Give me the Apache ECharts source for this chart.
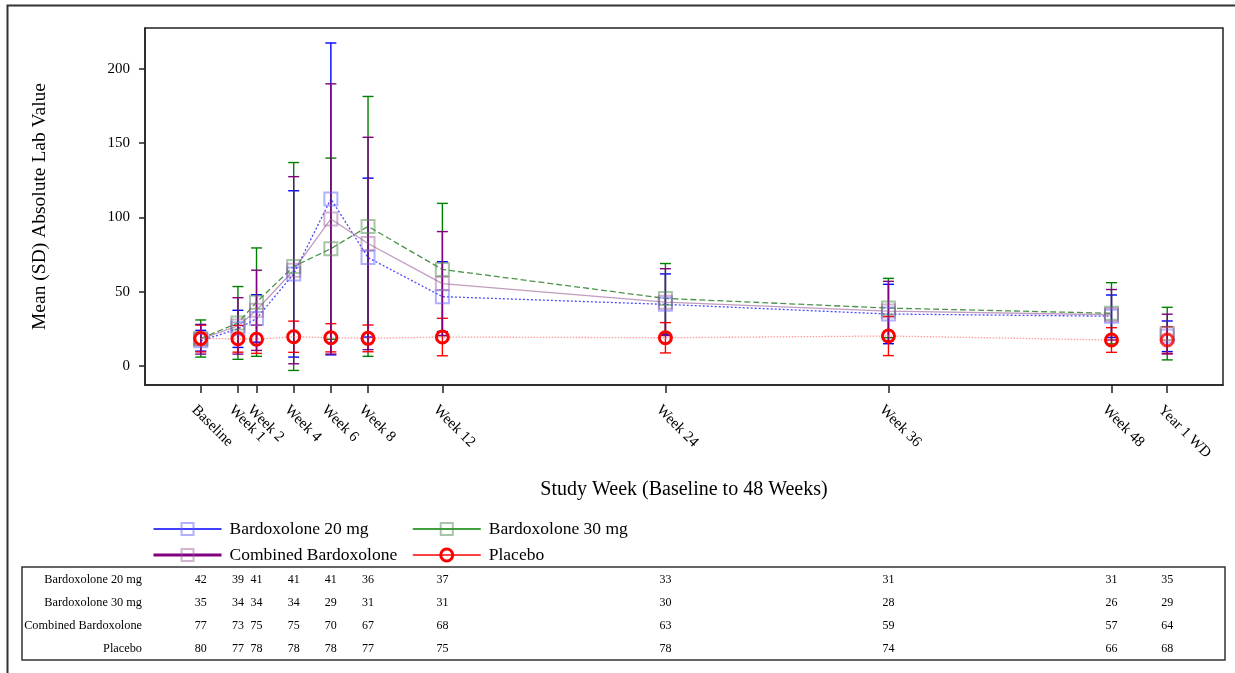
<!DOCTYPE html>
<html>
<head>
<meta charset="utf-8">
<script src="https://cdn.jsdelivr.net/npm/echarts@6/dist/echarts.min.js"></script>
<style>
  html, body { margin: 0; padding: 0; background: #fff; }
  #chart { width: 1235px; height: 673px; }
</style>
</head>
<body>
<div id="chart"></div>
<script>
// Visits and where each one sits on the study-week scale
const visitLabels = ['Baseline', 'Week 1', 'Week 2', 'Week 4', 'Week 6', 'Week 8', 'Week 12', 'Week 24', 'Week 36', 'Week 48', 'Year 1 WD'];
const visitWeeks = [-1, 1, 2, 4, 6, 8, 12, 24, 36, 48, 51];
const joinedVisits = 10; // visits up to Week 48 are joined; Year 1 WD stands alone
const yTicks = [0, 50, 100, 150, 200];

// Mean and SD of the absolute lab value per visit
const b20Mean = [17, 25, 32, 62, 112.5, 73, 46.7, 41.5, 35, 33.5, 20];
const b20Sd = [7, 12.5, 16, 56, 105, 53.5, 23.5, 20.5, 20, 14.3, 10.3];
const b30Mean = [18.5, 29, 43, 67, 79, 94, 65, 45.5, 39, 35.5, 21.8];
const b30Sd = [12.5, 24.5, 36.5, 70, 61, 87.5, 44.5, 23.5, 20, 20.6, 17.7];
const combMean = [18, 27, 37.5, 64.5, 99, 82.5, 55.5, 43, 37, 34.5, 21.5];
const combSd = [10, 19, 27, 63, 91, 71.5, 35, 22.5, 20, 17, 13.4];
const placeboMean = [18.5, 18.3, 18, 19.7, 19, 18.6, 19.5, 19, 20.2, 17.5, 17.5];
const placeboSd = [9, 9, 9.5, 10.5, 9.5, 9, 12.6, 10.2, 13.2, 8.3, 9];

// Number of subjects per visit
const b20N = [42, 39, 41, 41, 41, 36, 37, 33, 31, 31, 35];
const b30N = [35, 34, 34, 34, 29, 31, 31, 30, 28, 26, 29];
const combN = [77, 73, 75, 75, 70, 67, 68, 63, 59, 57, 64];
const placeboN = [80, 77, 78, 78, 78, 77, 75, 78, 74, 66, 68];

const FONT = '"Liberation Serif", "Times New Roman", serif';

const groups = [
  { name: 'Bardoxolone 20 mg', mean: b20Mean, sd: b20Sd, n: b20N, color: '#0000ff',
    line: { color: 'rgba(30,30,255,0.8)', width: 1.3, type: [2, 2] },
    symbol: 'rect', symbolSize: 13,
    item: { color: 'rgba(0,0,0,0)', borderColor: 'rgba(100,100,255,0.5)', borderWidth: 2 },
    legendWidth: 1.5, barOrder: 0 },
  { name: 'Bardoxolone 30 mg', mean: b30Mean, sd: b30Sd, n: b30N, color: '#008000',
    line: { color: 'rgba(30,120,30,0.8)', width: 1.3, type: [6, 3] },
    symbol: 'rect', symbolSize: 13,
    item: { color: 'rgba(0,0,0,0)', borderColor: 'rgba(80,140,80,0.5)', borderWidth: 2 },
    legendWidth: 1.5, barOrder: 1 },
  { name: 'Combined Bardoxolone', mean: combMean, sd: combSd, n: combN, color: '#800080',
    line: { color: 'rgba(150,90,150,0.6)', width: 1.3, type: 'solid' },
    symbol: 'rect', symbolSize: 13,
    item: { color: 'rgba(0,0,0,0)', borderColor: 'rgba(150,90,150,0.45)', borderWidth: 2 },
    legendWidth: 3, barOrder: 3 },
  { name: 'Placebo', mean: placeboMean, sd: placeboSd, n: placeboN, color: '#ff0000',
    line: { color: 'rgba(255,90,90,0.6)', width: 1.3, type: [1.5, 1.5] },
    symbol: 'circle', symbolSize: 12,
    item: { color: 'rgba(0,0,0,0)', borderColor: '#ff0000', borderWidth: 3 },
    legendWidth: 1.5, barOrder: 2 }
];

const series = [];

// Error bars: mean +/- SD with end caps
groups.slice().sort((a, b) => a.barOrder - b.barOrder).forEach(g => {
  series.push({
    type: 'custom',
    name: g.name + ' SD',
    xAxisIndex: 0, yAxisIndex: 0,
    z: 2,
    silent: true,
    data: visitWeeks.map((w, i) => [w, g.mean[i], g.sd[i]]),
    encode: { x: 0, y: 1 },
    renderItem: (params, api) => {
      const x = api.value(0), m = api.value(1), s = api.value(2);
      const top = api.coord([x, m + s]);
      const bot = api.coord([x, m - s]);
      const hw = 5.5;
      const st = { stroke: g.color, lineWidth: 1.4 };
      return {
        type: 'group',
        children: [
          { type: 'line', shape: { x1: top[0], y1: top[1], x2: bot[0], y2: bot[1] }, style: st },
          { type: 'line', shape: { x1: top[0] - hw, y1: top[1], x2: top[0] + hw, y2: top[1] }, style: st },
          { type: 'line', shape: { x1: bot[0] - hw, y1: bot[1], x2: bot[0] + hw, y2: bot[1] }, style: st }
        ]
      };
    }
  });
});

// Mean profiles (joined visits) and the stand-alone Year 1 WD marker
groups.forEach(g => {
  const pts = visitWeeks.map((w, i) => [w, g.mean[i]]);
  series.push({
    type: 'line',
    name: g.name,
    xAxisIndex: 0, yAxisIndex: 0,
    z: g.symbol === 'circle' ? 6 : 4,
    data: pts.slice(0, joinedVisits),
    symbol: g.symbol,
    symbolSize: g.symbolSize,
    showSymbol: true,
    lineStyle: g.line,
    itemStyle: g.item,
    emphasis: { disabled: true },
    animation: false
  });
  series.push({
    type: 'scatter',
    name: g.name + ' WD',
    xAxisIndex: 0, yAxisIndex: 0,
    z: g.symbol === 'circle' ? 6 : 4,
    data: pts.slice(joinedVisits),
    symbol: g.symbol,
    symbolSize: g.symbolSize,
    itemStyle: g.item,
    emphasis: { disabled: true },
    animation: false
  });
});

// Subject counts table beneath the legend
groups.forEach((g, row) => {
  series.push({
    type: 'custom',
    name: g.name + ' N',
    xAxisIndex: 1, yAxisIndex: 1,
    silent: true,
    data: visitWeeks.map((w, i) => [w, row, g.n[i]]),
    encode: { x: 0, y: 1 },
    renderItem: (params, api) => {
      const p = api.coord([api.value(0), api.value(1)]);
      return {
        type: 'text',
        x: p[0], y: p[1],
        style: {
          text: String(api.value(2)),
          align: 'center', verticalAlign: 'middle',
          font: '12px ' + FONT, fill: '#000'
        }
      };
    }
  });
});

const legendItem = g => ({
  name: g.name,
  lineStyle: { type: 'solid', width: g.legendWidth, color: g.color, opacity: 1 },
  itemStyle: g.item
});

const legendBase = {
  top: 515, orient: 'vertical', itemGap: 8,
  itemWidth: 68, itemHeight: 15,
  textStyle: { fontSize: 17.5, lineHeight: 17, color: '#000', fontFamily: FONT, padding: [0, 0, 0, 3] },
  selectedMode: false
};

const chart = echarts.init(document.getElementById('chart'), null, { renderer: 'canvas' });
chart.setOption({
  animation: false,
  backgroundColor: '#ffffff',
  textStyle: { fontFamily: FONT },
  grid: [
    { left: 145, right: 12, top: 28, bottom: 288, show: true, borderColor: '#222', borderWidth: 1.5, backgroundColor: 'transparent' },
    { left: 145, right: 12, top: 568, height: 92 }
  ],
  xAxis: [
    {
      type: 'value', gridIndex: 0, min: -4, max: 54,
      name: 'Study Week (Baseline to 48 Weeks)', nameLocation: 'middle', nameGap: 95,
      nameTextStyle: { fontSize: 20, color: '#000', fontFamily: FONT },
      axisLine: { show: true, onZero: false, lineStyle: { color: '#222', width: 1.5 } },
      axisTick: { show: true, length: 8, customValues: visitWeeks, lineStyle: { color: '#222', width: 1.5 } },
      axisLabel: {
        customValues: visitWeeks, rotate: -45, margin: 16,
        align: 'left', verticalAlign: 'top', lineHeight: 19,
        fontSize: 15, color: '#000', fontFamily: FONT,
        formatter: v => visitLabels[visitWeeks.indexOf(v)] || ''
      },
      splitLine: { show: false }
    },
    { type: 'value', gridIndex: 1, min: -4, max: 54, show: false }
  ],
  yAxis: [
    {
      type: 'value', gridIndex: 0, min: -12.8, max: 227.6,
      name: 'Mean (SD) Absolute Lab Value', nameLocation: 'middle', nameGap: 95, nameRotate: 90,
      nameTextStyle: { fontSize: 19.5, color: '#000', fontFamily: FONT },
      axisLine: { show: true, onZero: false, lineStyle: { color: '#222', width: 1.5 } },
      axisTick: { show: true, length: 6, customValues: yTicks, lineStyle: { color: '#222', width: 1.5 } },
      axisLabel: { customValues: yTicks, margin: 15, fontSize: 15, color: '#000', fontFamily: FONT },
      splitLine: { show: false }
    },
    {
      type: 'category', gridIndex: 1, inverse: true,
      data: groups.map(g => g.name),
      axisLine: { show: false }, axisTick: { show: false }, splitLine: { show: false },
      axisLabel: { margin: 3, fontSize: 12.3, color: '#000', fontFamily: FONT }
    }
  ],
  legend: [
    Object.assign({ left: 147, data: [legendItem(groups[0]), legendItem(groups[2])] }, legendBase),
    Object.assign({ left: 407, data: [legendItem(groups[1]), legendItem(groups[3])] }, legendBase)
  ],
  graphic: [
    { type: 'rect', shape: { x: 7.5, y: 5.5, width: 1240, height: 690 }, style: { fill: 'none', stroke: '#333', lineWidth: 2 }, silent: true },
    { type: 'rect', shape: { x: 22, y: 567, width: 1203, height: 93 }, style: { fill: 'none', stroke: '#333', lineWidth: 1.5 }, silent: true }
  ],
  series: series
});
</script>
</body>
</html>
